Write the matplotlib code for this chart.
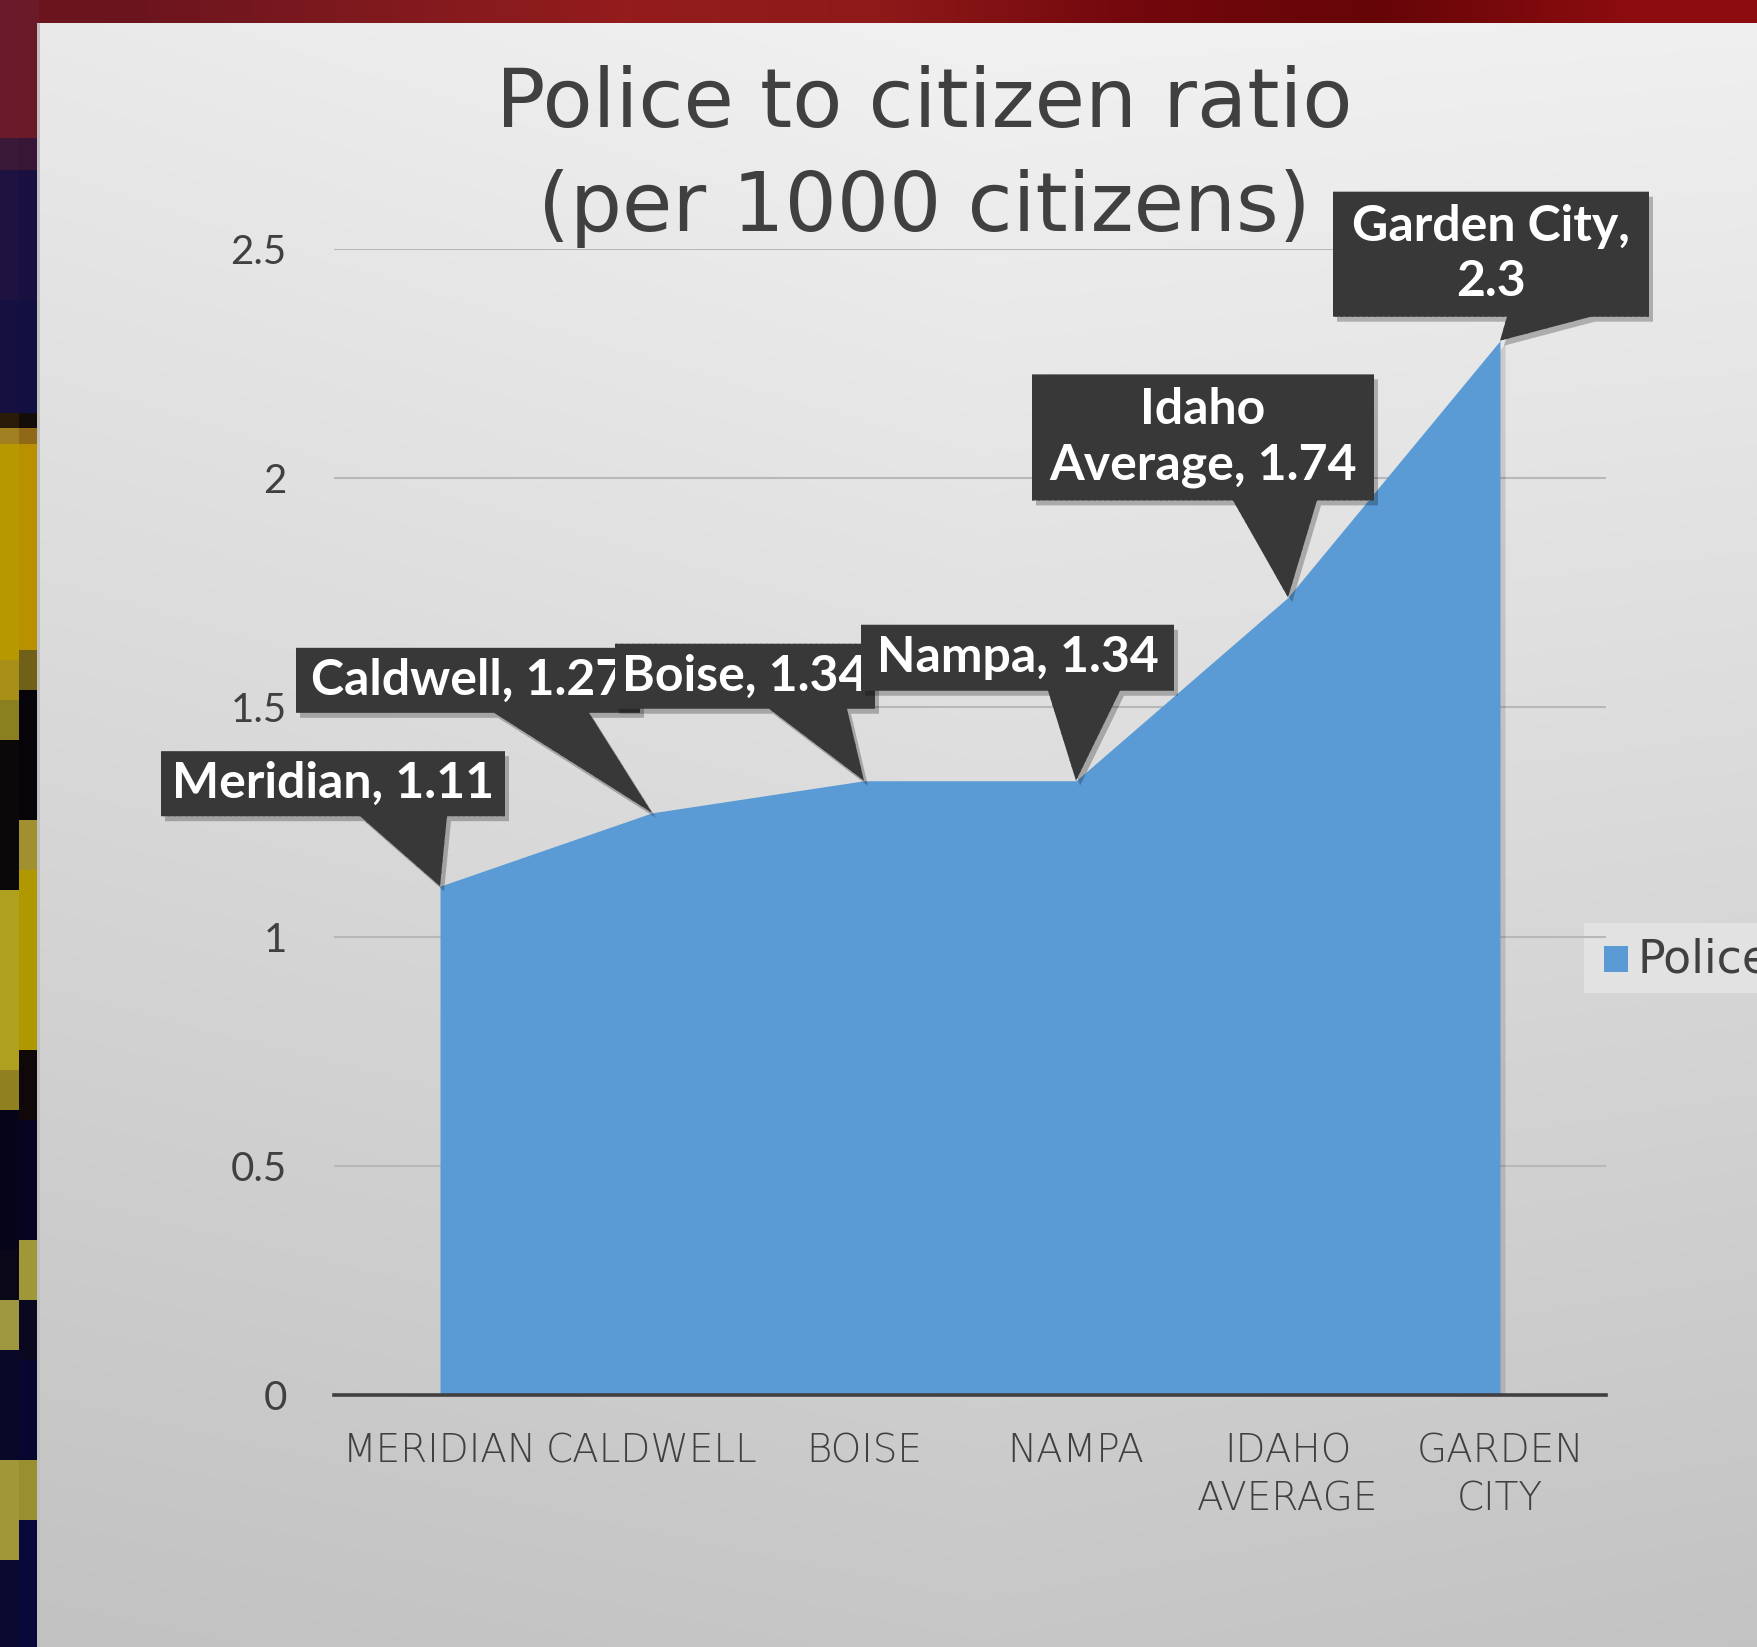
import numpy as np
import matplotlib
matplotlib.use("Agg")
from matplotlib import pyplot as plt
from matplotlib import transforms as mtransforms
from matplotlib.patches import Polygon, Rectangle

# Data
tick_labels = ["MERIDIAN", "CALDWELL", "BOISE", "NAMPA", "IDAHO\nAVERAGE", "GARDEN\nCITY"]
ratio = [1.11, 1.27, 1.34, 1.34, 1.74, 2.3]
callout_text = ["Meridian, 1.11", "Caldwell, 1.27", "Boise, 1.34", "Nampa, 1.34",
                "Idaho\nAverage, 1.74", "Garden City,\n2.3"]
y_ticks = [0, 0.5, 1, 1.5, 2, 2.5]
y_tick_labels = ["0", "0.5", "1", "1.5", "2", "2.5"]

# Callout box geometry, pixels relative to the data point:
# (left, right, bottom, top, pointer base left, pointer base right)
callout_boxes = [
    (-279, 65, 70, 135, -80, 7),
    (-356, -12, 100, 165, -158, -63),
    (-249, 11, 72, 137, -95, -17),
    (-215, 98, 90, 156, -28, 44),
    (-256, 86, 97, 223, -55, 29),
    (-167, 149, 24, 149, 7, 91),
]

# decorative photo strip on the left edge: (y start, y end, colour) per half column
strip_left = [(0, 138, "#6a1a2a"), (138, 170, "#3a1838"), (170, 300, "#1e1240"),
              (300, 413, "#161040"), (413, 428, "#2a1a08"), (428, 444, "#a08020"),
              (444, 660, "#b89800"), (660, 700, "#a89018"), (700, 740, "#8a8020"),
              (740, 890, "#0a0808"), (890, 1070, "#b0a020"), (1070, 1110, "#908020"),
              (1110, 1250, "#060418"), (1250, 1300, "#0a0818"), (1300, 1350, "#a09840"),
              (1350, 1460, "#0a0828"), (1460, 1560, "#a09838"), (1560, 1647, "#0a0a30")]
strip_right = [(0, 138, "#6a1a28"), (138, 170, "#361634"), (170, 300, "#1a1040"),
               (300, 413, "#121040"), (413, 428, "#140c08"), (428, 444, "#906818"),
               (444, 650, "#b89000"), (650, 690, "#706018"), (690, 820, "#060408"),
               (820, 870, "#a09030"), (870, 1050, "#b09800"), (1050, 1120, "#100808"),
               (1120, 1240, "#060420"), (1240, 1300, "#a09838"), (1300, 1360, "#0a0820"),
               (1360, 1460, "#060630"), (1460, 1520, "#989030"), (1520, 1647, "#08083a")]

W, H = 1757, 1647
DPI = 100
BLUE = "#5b9bd5"
TEXT = "#404040"

fig = plt.figure(figsize=(W / DPI, H / DPI), dpi=DPI)

# background (slide panel + decorative border)
bg = fig.add_axes([0, 0, 1, 1], zorder=-10)
bg.set_xlim(0, W)
bg.set_ylim(H, 0)
bg.axis("off")

yy, xx = np.mgrid[0:1:200j, 0:1:200j]
panel = 0.955 - 0.175 * yy - 0.035 * np.abs(xx - 0.55) - 0.02 * (1 - xx) * (1 - yy)
bg.imshow(np.dstack([panel] * 3), extent=(38, W, H, 23), aspect="auto",
          interpolation="bilinear")

# top red band
band = np.array([[0.42, 0.08, 0.12], [0.50, 0.10, 0.12], [0.58, 0.11, 0.11],
                 [0.56, 0.10, 0.10], [0.45, 0.03, 0.05], [0.40, 0.02, 0.03],
                 [0.55, 0.05, 0.06]])
bg.imshow(band[np.newaxis, :, :], extent=(0, W, 23, 0), aspect="auto",
          interpolation="bilinear")

for x0, segs in [(0, strip_left), (19, strip_right)]:
    for y0, y1, c in segs:
        bg.add_patch(Rectangle((x0, max(y0, 23) if x0 > 30 else y0), 20, y1 - y0,
                               color=c, lw=0))
bg.add_patch(Rectangle((37, 23), 3, H, color="#c0c0c0", lw=0))

# legend box (clipped at right edge, as in the slide)
bg.add_patch(Rectangle((1584, 923), 200, 70, color="#e2e2e2", lw=0))
bg.add_patch(Rectangle((1604, 946), 24, 26, color=BLUE, lw=0))
bg.text(1638, 960, "Police", fontsize=33, color=TEXT, va="center", ha="left",
        family="DejaVu Sans")

# main chart
ax = fig.add_axes([334 / W, 1 - 1395 / H, (1606 - 334) / W, (1395 - 249) / H])
ax.patch.set_alpha(0)
x = np.arange(len(ratio))
shadow_tr = ax.transData + mtransforms.ScaledTranslation(5 / DPI, -3 / DPI, fig.dpi_scale_trans)
ax.fill_between(x, 0, ratio, color="black", alpha=0.12, lw=0, zorder=1.9,
                transform=shadow_tr)
ax.fill_between(x, 0, ratio, color=BLUE, lw=0, zorder=2)
ax.set_xlim(-0.5, len(ratio) - 0.5)
ax.set_ylim(0, 2.5)

ax.set_yticks(y_ticks)
ax.set_yticklabels(y_tick_labels)
ax.set_xticks(x)
ax.set_xticklabels(tick_labels, linespacing=1.32)
ax.tick_params(axis="both", length=0, colors=TEXT)
ax.tick_params(axis="y", pad=34, labelsize=29)
ax.tick_params(axis="x", pad=27, labelsize=28)
for lab in ax.get_yticklabels():
    lab.set_family("Lato")
for lab in ax.get_xticklabels():
    lab.set_family("DejaVu Sans")
    lab.set_fontweight("light")

ax.yaxis.grid(True, color="#b8b8b8", lw=1.5, zorder=0)
ax.set_axisbelow(True)
for side in ["top", "right", "left"]:
    ax.spines[side].set_visible(False)
ax.spines["bottom"].set_color(TEXT)
ax.spines["bottom"].set_linewidth(2.6)
ax.spines["bottom"].set_zorder(3)

# title
fig.text(924 / W, 1 - 104 / H, "Police to citizen ratio", fontsize=59, color=TEXT,
         ha="center", va="center", family="DejaVu Sans")
fig.text(924 / W, 1 - 209 / H, "(per 1000 citizens)", fontsize=59, color=TEXT,
         ha="center", va="center", family="DejaVu Sans")

# data callouts
plt.rcParams["hatch.color"] = "#4e4e4e"
plt.rcParams["hatch.linewidth"] = 1.0
for i, (val, label, box) in enumerate(zip(ratio, callout_text, callout_boxes)):
    left, right, bottom, top, bl, br = box
    trans = fig.dpi_scale_trans + mtransforms.ScaledTranslation(i, val, ax.transData)
    verts = np.array([(left, bottom), (bl, bottom), (0, 0), (br, bottom),
                      (right, bottom), (right, top), (left, top)]) / DPI
    shadow = Polygon(verts + np.array([4, -5]) / DPI, closed=True, transform=trans,
                     facecolor="black", alpha=0.25, lw=0, clip_on=False, zorder=4 + 2 * i)
    ax.add_patch(shadow)
    poly = Polygon(verts, closed=True, transform=trans, facecolor="#383838",
                   edgecolor="#383838", hatch="...", lw=0, clip_on=False, zorder=5 + 2 * i)
    ax.add_patch(poly)
    ax.text((left + right) / 2 / DPI, (bottom + top) / 2 / DPI, label, transform=trans,
            ha="center", va="center", color="white", fontsize=36, fontweight="bold",
            family="Lato", linespacing=1.28, zorder=5 + 2 * i, clip_on=False)

fig.savefig("out.png", dpi=DPI)
